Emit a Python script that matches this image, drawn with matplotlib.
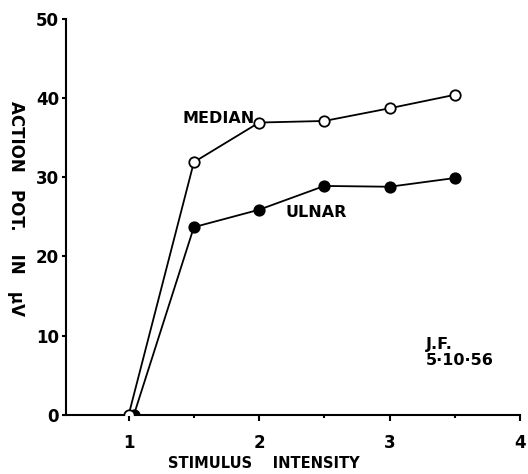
import numpy as np
import matplotlib.pyplot as plt

# stimulus intensity vs action potential (µV)
median_x = [1.0, 1.5, 2.0, 2.5, 3.0, 3.5]
median_y = [0.0, 31.9, 36.9, 37.1, 38.7, 40.4]
ulnar_x = [1.04, 1.5, 2.0, 2.5, 3.0, 3.5]
ulnar_y = [0.0, 23.7, 25.9, 28.9, 28.8, 29.9]

x_ticks = [1, 2, 3, 4]
x_minor = [1.5, 2.5, 3.5]
y_ticks = [0, 10, 20, 30, 40, 50]

plt.rcParams['font.family'] = 'DejaVu Sans'

fig = plt.figure(figsize=(5.28, 4.74), dpi=100)
ax = fig.add_axes([0.125, 0.1245, 0.86, 0.836])

ax.plot(ulnar_x, ulnar_y, color="black", lw=1.3, marker="o", ms=7.5,
        mfc="black", mec="black", mew=1.3, zorder=3)
ax.plot(median_x, median_y, color="black", lw=1.3, marker="o", ms=7.5,
        mfc="white", mec="black", mew=1.3, zorder=4)

ax.set_xlim(0.52, 4.0)
ax.set_ylim(0, 50)
ax.spines['top'].set_visible(False)
ax.spines['right'].set_visible(False)
ax.spines['left'].set_linewidth(1.5)
ax.spines['bottom'].set_linewidth(1.5)

ax.set_xticks(x_ticks)
ax.set_xticks(x_minor, minor=True)
ax.set_yticks(y_ticks)
ax.tick_params(axis='x', which='major', length=4, width=1.5, pad=10, labelsize=12)
ax.tick_params(axis='x', which='minor', length=2.5, width=1.5)
ax.tick_params(axis='y', length=3, width=1.5, pad=2, labelsize=12)
for lab in ax.get_xticklabels() + ax.get_yticklabels():
    lab.set_fontweight('bold')

ax.text(1.41, 37.4, "MEDIAN", fontsize=11.5, fontweight='bold', va='center', ha='left')
ax.text(2.2, 25.5, "ULNAR", fontsize=11.5, fontweight='bold', va='center', ha='left')
ax.text(3.28, 7.9, "J.F.\n5·10·56", fontsize=11.5, fontweight='bold', va='center',
        ha='left', linespacing=1.1)

fig.text(0.50, 0.022, "STIMULUS    INTENSITY", fontsize=10.5, fontweight='bold',
         ha='center', va='center')
fig.text(0.03, 0.56, "ACTION   POT.    IN   µV", fontsize=12, fontweight='bold',
         rotation=-90, ha='center', va='center')

fig.savefig("out.png", dpi=100)
